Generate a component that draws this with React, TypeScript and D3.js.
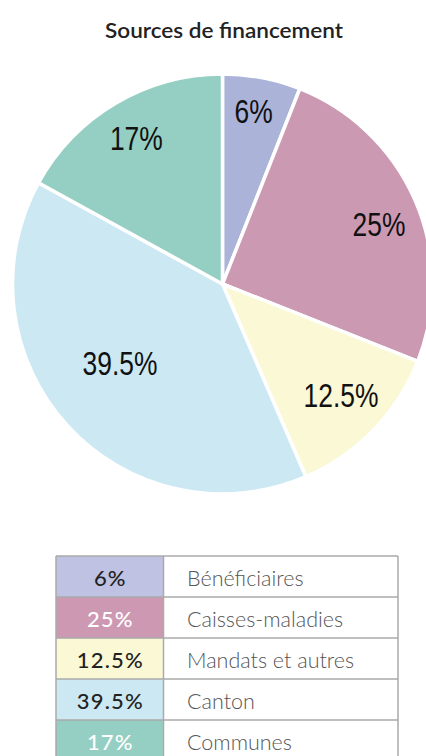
import React from "react";
import * as d3 from "d3";

const title = "Sources de financement";
const categories = ["Bénéficiaires", "Caisses-maladies", "Mandats et autres", "Canton", "Communes"];
const values = [6, 25, 12.5, 39.5, 17];
const valueLabels = ["6%", "25%", "12.5%", "39.5%", "17%"];
const pieColors = ["#abb3d9", "#cc99b3", "#faf8d5", "#cce9f3", "#95cfc3"];
const tableColors = ["#bfc2e2", "#cd98b2", "#fbf8d6", "#cce9f3", "#95cfc3"];
const tableTextColors = ["#222222", "#ffffff", "#222222", "#222222", "#ffffff"];
const labelRadiusFactors = [0.837, 0.798, 0.773, 0.616, 0.806];
const labelAngleOffsetsDeg = [-0.6, 2.4, -1.0, 4.7, 0];

const W = 426;
const H = 756;

export default function App() {
  const cx = 222.5;
  const cy = 284;
  const R = 210;

  const pie = d3
    .pie<number>()
    .sort(null)
    .value((d) => d);
  const arcs = pie(values);
  const arc = d3.arc<d3.PieArcDatum<number>>().innerRadius(0).outerRadius(R);

  const tableX = 56;
  const col1 = 163.5;
  const tableRight = 398;
  const tableTop = 556;
  const rowH = 41;
  const rows = d3.range(categories.length);
  const y = d3.scaleBand<number>().domain(rows).range([tableTop, tableTop + rowH * rows.length]).padding(0);

  const labelFont = 33;

  return (
    <svg
      width={W}
      height={H}
      style={{ position: "absolute", left: 0, top: 0, background: "#ffffff" }}
    >
      <text
        x={224}
        y={38}
        textAnchor="middle"
        fontFamily="Lato, 'Open Sans', sans-serif"
        fontWeight={600}
        fontSize={21}
        fill="#222"
        textLength={238}
        lengthAdjust="spacingAndGlyphs"
      >
        {title}
      </text>

      <g transform={`translate(${cx},${cy})`}>
        {arcs.map((a, i) => (
          <path key={i} d={arc(a) || ""} fill={pieColors[i]} stroke="#ffffff" strokeWidth={3.5} strokeLinejoin="round" />
        ))}
        {arcs.map((a, i) => {
          const r = R * labelRadiusFactors[i];
          const off = (labelAngleOffsetsDeg[i] * Math.PI) / 180;
          const la = d3.arc<any>().innerRadius(r).outerRadius(r);
          const [lx, ly] = la.centroid({ ...a, startAngle: a.startAngle + off, endAngle: a.endAngle + off });
          return (
            <text
              key={"l" + i}
              transform={`translate(${lx},${ly + labelFont * 0.358}) scale(0.8,1)`}
              textAnchor="middle"
              fontFamily="'Liberation Sans', Arial, sans-serif"
              fontSize={labelFont}
              fill="#111"
            >
              {valueLabels[i]}
            </text>
          );
        })}
      </g>

      <g>
        {rows.map((i) => {
          const y0 = y(i) as number;
          return (
            <g key={i}>
              <rect x={tableX} y={y0} width={col1 - tableX} height={rowH} fill={tableColors[i]} />
              <rect x={col1} y={y0} width={tableRight - col1} height={rowH} fill="#ffffff" />
              <text
                x={(tableX + col1) / 2 + 0.6}
                y={y0 + 29.5}
                textAnchor="middle"
                fontFamily="Lato, 'Open Sans', sans-serif"
                fontWeight={500}
                fontSize={22}
                letterSpacing={1.2}
                fill={tableTextColors[i]}
              >
                {valueLabels[i]}
              </text>
              <text
                x={187}
                y={y0 + 29.5}
                fontFamily="Lato, 'Open Sans', sans-serif"
                fontWeight={300}
                fontSize={21.5}
                fill="#555"
              >
                {categories[i]}
              </text>
            </g>
          );
        })}
        {rows.map((i) => (
          <line
            key={"h" + i}
            x1={tableX}
            x2={tableRight}
            y1={y(i) as number}
            y2={y(i) as number}
            stroke="#aaaaaa"
            strokeWidth={1.5}
          />
        ))}
        {[tableX, col1, tableRight].map((x, k) => (
          <line
            key={"v" + k}
            x1={x}
            x2={x}
            y1={tableTop}
            y2={tableTop + rowH * rows.length}
            stroke="#aaaaaa"
            strokeWidth={1.5}
          />
        ))}
      </g>
    </svg>
  );
}
